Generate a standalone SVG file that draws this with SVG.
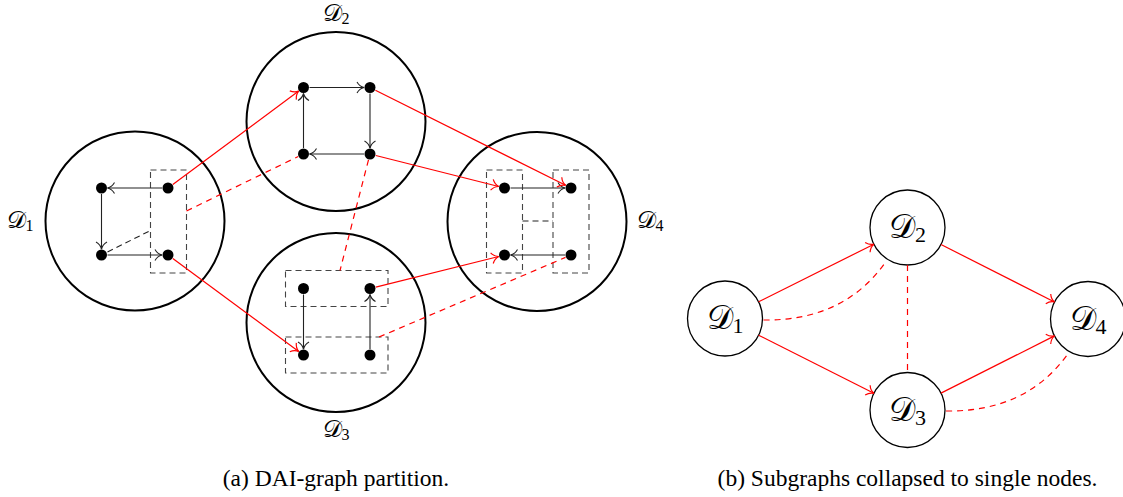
<svg xmlns="http://www.w3.org/2000/svg" width="1123" height="497" viewBox="0 0 1123 497">
<style>
  .big { fill: none; stroke: #000; stroke-width: 2; }
  .sm { fill: #fff; stroke: #000; stroke-width: 1.3; }
  .dot { fill: #000; }
  .blk { stroke: #222; stroke-width: 1.1; fill: none; marker-end: url(#ak); }
  .blkd { stroke: #222; stroke-width: 1.1; fill: none; stroke-dasharray: 6 4; }
  .grp { fill: none; stroke: #444; stroke-width: 1.1; stroke-dasharray: 6 4; }
  .red { stroke: #ff0000; stroke-width: 1.2; fill: none; marker-end: url(#ar); }
  .redd { stroke: #ff0000; stroke-width: 1.2; fill: none; stroke-dasharray: 6 5; }
  .lab { fill: #000; }
  .cap { font-size: 23.5px; fill: #000; }
</style>
<defs>
  <marker id="ak" markerUnits="userSpaceOnUse" viewBox="-9 -7 10 14" refX="0" refY="0" markerWidth="10" markerHeight="14" orient="auto" overflow="visible">
    <path d="M -7 -5.5 C -5 -2 -2 -0.5 0 0 C -2 0.5 -5 2 -7 5.5" fill="none" stroke="#222" stroke-width="1.1"/>
  </marker>
  <marker id="ar" markerUnits="userSpaceOnUse" viewBox="-9 -7 10 14" refX="0" refY="0" markerWidth="10" markerHeight="14" orient="auto" overflow="visible">
    <path d="M -7 -5.5 C -5 -2 -2 -0.5 0 0 C -2 0.5 -5 2 -7 5.5" fill="none" stroke="#ff0000" stroke-width="1.2"/>
  </marker>
</defs>

<!-- (a) left panel -->
<g id="D1a">
  <circle class="big" cx="135" cy="221" r="89.5"/>
  <rect class="grp" x="150.5" y="170" width="36" height="103"/>
  <circle class="dot" cx="101.5" cy="188" r="5.5"/>
  <circle class="dot" cx="168" cy="188" r="5.5"/>
  <circle class="dot" cx="101.5" cy="255" r="5.5"/>
  <circle class="dot" cx="168" cy="255" r="5.5"/>
  <text class="lab" font-family="DejaVu Serif, serif" x="20" y="228" font-size="24" text-anchor="middle">𝒟<tspan font-family="Liberation Serif, serif" font-size="16" dy="3">1</tspan></text>
</g>
<g id="D2a">
  <circle class="big" cx="336" cy="121.5" r="89.5"/>
  <circle class="dot" cx="303.5" cy="87.5" r="5.5"/>
  <circle class="dot" cx="370" cy="87.5" r="5.5"/>
  <circle class="dot" cx="303.5" cy="154" r="5.5"/>
  <circle class="dot" cx="370" cy="154" r="5.5"/>
  <text class="lab" font-family="DejaVu Serif, serif" x="336" y="21" font-size="24" text-anchor="middle">𝒟<tspan font-family="Liberation Serif, serif" font-size="16" dy="3">2</tspan></text>
</g>
<g id="D3a">
  <circle class="big" cx="336" cy="322.5" r="89.5"/>
  <rect class="grp" x="285.5" y="270.5" width="102.5" height="36"/>
  <rect class="grp" x="285.5" y="337" width="102.5" height="36"/>
  <circle class="dot" cx="303.5" cy="288.5" r="5.5"/>
  <circle class="dot" cx="370" cy="288.5" r="5.5"/>
  <circle class="dot" cx="303.5" cy="355" r="5.5"/>
  <circle class="dot" cx="370" cy="355" r="5.5"/>
  <text class="lab" font-family="DejaVu Serif, serif" x="336" y="437" font-size="24" text-anchor="middle">𝒟<tspan font-family="Liberation Serif, serif" font-size="16" dy="3">3</tspan></text>
</g>
<g id="D4a">
  <circle class="big" cx="537" cy="221.5" r="89.5"/>
  <rect class="grp" x="486.5" y="170" width="36" height="103"/>
  <rect class="grp" x="553" y="170" width="36" height="103"/>
  <circle class="dot" cx="504.5" cy="188" r="5.5"/>
  <circle class="dot" cx="571" cy="188" r="5.5"/>
  <circle class="dot" cx="504.5" cy="255" r="5.5"/>
  <circle class="dot" cx="571" cy="255" r="5.5"/>
  <text class="lab" font-family="DejaVu Serif, serif" x="650" y="228" font-size="24" text-anchor="middle">𝒟<tspan font-family="Liberation Serif, serif" font-size="16" dy="3">4</tspan></text>
</g>

<!-- (b) right panel nodes -->
<g id="D1b">
  <circle class="sm" cx="725" cy="318.5" r="37.5"/>
  <text class="lab" font-family="DejaVu Serif, serif" x="725" y="329" font-size="33" text-anchor="middle">𝒟<tspan font-family="Liberation Serif, serif" font-size="22" dy="4">1</tspan></text>
</g>
<g id="D2b">
  <circle class="sm" cx="907.5" cy="227.5" r="37.5"/>
  <text class="lab" font-family="DejaVu Serif, serif" x="907.5" y="238" font-size="33" text-anchor="middle">𝒟<tspan font-family="Liberation Serif, serif" font-size="22" dy="4">2</tspan></text>
</g>
<g id="D3b">
  <circle class="sm" cx="907.5" cy="410" r="37.5"/>
  <text class="lab" font-family="DejaVu Serif, serif" x="907.5" y="420.5" font-size="33" text-anchor="middle">𝒟<tspan font-family="Liberation Serif, serif" font-size="22" dy="4">3</tspan></text>
</g>
<g id="D4b">
  <circle class="sm" cx="1088" cy="319" r="37.5"/>
  <text class="lab" font-family="DejaVu Serif, serif" x="1088" y="329.5" font-size="33" text-anchor="middle">𝒟<tspan font-family="Liberation Serif, serif" font-size="22" dy="4">4</tspan></text>
</g>

<g id="connectors">
  <line class="blk" x1="162" y1="188" x2="107.5" y2="188"/>
  <line class="blk" x1="101.5" y1="194" x2="101.5" y2="249"/>
  <line class="blk" x1="107.5" y1="255" x2="162" y2="255"/>
  <line class="blkd" x1="107.5" y1="252" x2="150.5" y2="230.5"/>
  <line class="blk" x1="309.5" y1="87.5" x2="364" y2="87.5"/>
  <line class="blk" x1="370" y1="93.5" x2="370" y2="148"/>
  <line class="blk" x1="364" y1="154" x2="309.5" y2="154"/>
  <line class="blk" x1="303.5" y1="148" x2="303.5" y2="93.5"/>
  <line class="blk" x1="303.5" y1="294.5" x2="303.5" y2="349"/>
  <line class="blk" x1="370" y1="349" x2="370" y2="294.5"/>
  <line class="blk" x1="510.5" y1="188" x2="565" y2="188"/>
  <line class="blk" x1="565" y1="255" x2="510.5" y2="255"/>
  <line class="blkd" x1="522.5" y1="221" x2="553" y2="221"/>
  <line class="red" x1="172.8" y1="184.4" x2="298.7" y2="91.1"/>
  <line class="red" x1="172.8" y1="258.6" x2="298.7" y2="351.4"/>
  <line class="red" x1="375.4" y1="90.2" x2="565.6" y2="185.3"/>
  <line class="red" x1="375.8" y1="155.5" x2="498.7" y2="186.5"/>
  <line class="red" x1="375.8" y1="287.1" x2="498.7" y2="256.5"/>
  <line class="redd" x1="186.5" y1="211" x2="298.2" y2="156.5"/>
  <line class="redd" x1="368.5" y1="159.8" x2="340" y2="270.5"/>
  <line class="redd" x1="379" y1="337" x2="565.5" y2="257.4"/>
  <line class="red" x1="758.6" y1="301.8" x2="873.9" y2="244.2"/>
  <line class="red" x1="758.6" y1="335.2" x2="873.9" y2="393.3"/>
  <line class="red" x1="941" y1="244.5" x2="1054.5" y2="302"/>
  <line class="red" x1="941" y1="393.1" x2="1054.5" y2="335.9"/>
  <path class="redd" d="M 763.5 320 Q 844.5 321 886 261.5"/>
  <path class="redd" d="M 946 411 Q 1027 412 1068.5 353"/>
  <line class="redd" x1="907.5" y1="265" x2="907.5" y2="372.5"/>
</g>

<text class="cap" font-family="Liberation Serif, serif" x="336" y="486" text-anchor="middle">(a) DAI-graph partition.</text>
<text class="cap" font-family="Liberation Serif, serif" x="907.5" y="486" text-anchor="middle">(b) Subgraphs collapsed to single nodes.</text>
</svg>
